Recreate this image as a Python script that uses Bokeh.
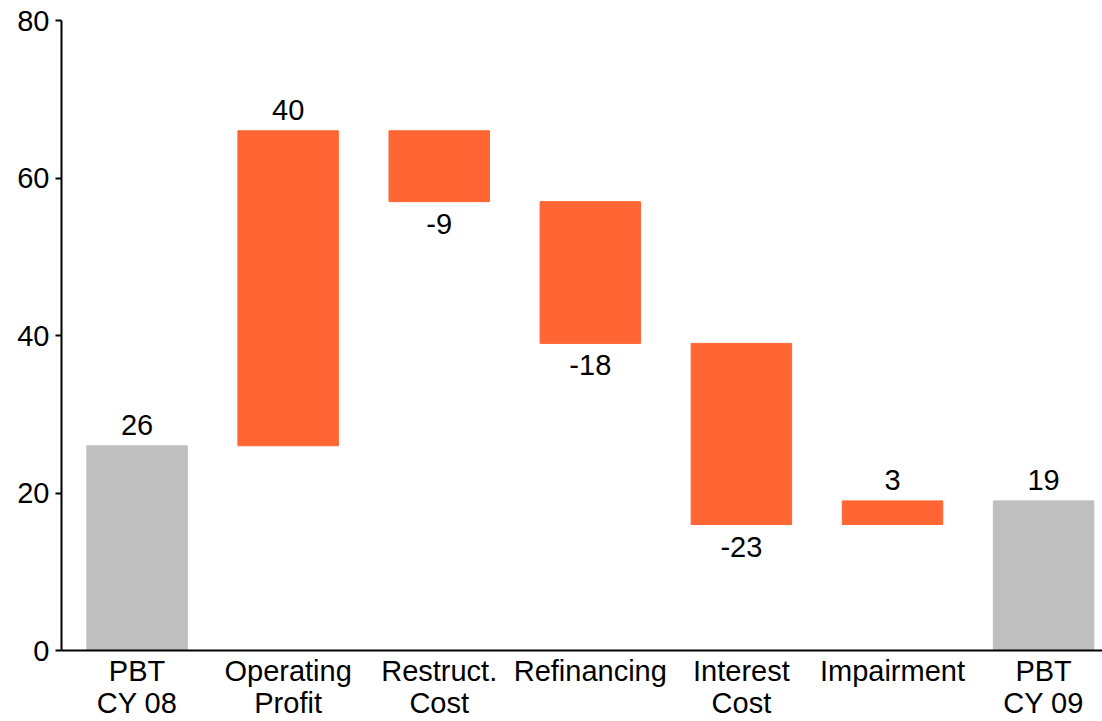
from bokeh.plotting import figure
from bokeh.models import ColumnDataSource, FixedTicker, LabelSet
from bokeh.core.properties import value
from bokeh.embed import file_html
from bokeh.resources import INLINE

# Profit bridge: starting total, changes, ending total
categories = ["PBT\nCY 08", "Operating\nProfit", "Restruct.\nCost", "Refinancing",
              "Interest\nCost", "Impairment", "PBT\nCY 09"]
values = [26, 40, -9, -18, -23, 3, 19]
is_total = [True, False, False, False, False, False, True]
y_ticks = [0, 20, 40, 60, 80]

GREY = "#bfbfbf"
ORANGE = "#ff6633"
FONT = "Liberation Sans"
FONT_SIZE = "29px"

xs, bottoms, tops, colors = [], [], [], []
up = dict(x=[], y=[], t=[])
down = dict(x=[], y=[], t=[])
running = 0
for i, (v, tot) in enumerate(zip(values, is_total)):
    if tot:
        lo, hi = 0, v
        running = v
        col = GREY
    else:
        lo, hi = sorted([running, running + v])
        running += v
        col = ORANGE
    xs.append(i)
    bottoms.append(lo)
    tops.append(hi)
    colors.append(col)
    if v >= 0:
        up["x"].append(i); up["y"].append(hi); up["t"].append(str(v))
    else:
        down["x"].append(i); down["y"].append(lo); down["t"].append(str(v))

bars = ColumnDataSource(dict(x=xs, bottom=bottoms, top=tops, color=colors))

p = figure(width=1102, height=721, output_backend="svg", toolbar_location=None,
           x_range=(-0.5, 6.39), y_range=(0, 80),
           min_border_left=61, min_border_right=0, min_border_top=20, min_border_bottom=69)
p.outline_line_color = None
p.grid.grid_line_color = None
p.background_fill_color = "white"
p.border_fill_color = "white"

p.vbar(x="x", bottom="bottom", top="top", width=0.665, color="color", source=bars)

for data, base, off in ((up, "bottom", 11), (down, "top", -12)):
    p.add_layout(LabelSet(x="x", y="y", text="t", source=ColumnDataSource(data), y_offset=off,
                          text_align="center", text_baseline=base,
                          text_font=value(FONT), text_font_size=value(FONT_SIZE),
                          text_color="black"))

# y axis
p.yaxis.ticker = FixedTicker(ticks=y_ticks)
p.yaxis.axis_line_width = 2
p.yaxis.major_tick_line_width = 2
p.yaxis.major_tick_out = 6
p.yaxis.major_tick_in = 0
p.yaxis.minor_tick_line_color = None
p.yaxis.major_label_standoff = 6
p.yaxis.major_label_text_font = FONT
p.yaxis.major_label_text_font_size = FONT_SIZE
p.yaxis.major_label_text_color = "black"

# x axis with category names
p.xaxis.ticker = FixedTicker(ticks=list(range(len(categories))))
p.xaxis.major_label_overrides = {i: c for i, c in enumerate(categories)}
p.xaxis.axis_line_width = 2
p.xaxis.major_tick_line_color = None
p.xaxis.minor_tick_line_color = None
p.xaxis.major_tick_out = 0
p.xaxis.major_tick_in = 0
p.xaxis.major_label_standoff = 4
p.xaxis.major_label_text_font = FONT
p.xaxis.major_label_text_font_size = FONT_SIZE
p.xaxis.major_label_text_color = "black"
p.xaxis.major_label_text_line_height = 1.0

open("out.html", "w").write(file_html(p, INLINE))
